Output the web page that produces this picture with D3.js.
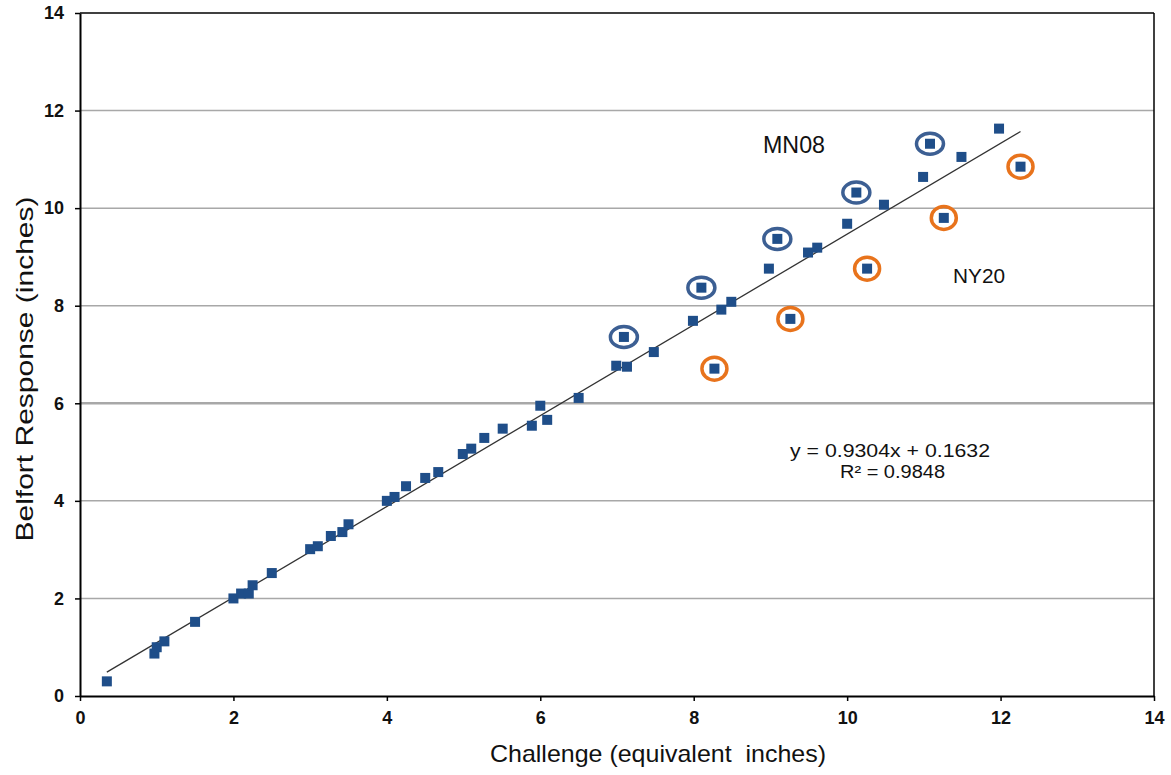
<!DOCTYPE html>
<html>
<head>
<meta charset="utf-8">
<script src="https://cdn.jsdelivr.net/npm/d3@7"></script>
<style>
  body { margin: 0; background: #fff; }
  text { font-family: "Liberation Sans", Arial, sans-serif; white-space: pre; }
</style>
</head>
<body>
<div id="chart"></div>
<script>
// all measured points (Challenge, Belfort)
let challenge = [0.35, 0.97, 1.0, 1.1, 1.5, 2.0, 2.1, 2.2, 2.25, 2.5, 3.0, 3.1, 3.27, 3.42, 3.5,
    4.0, 4.1, 4.25, 4.5, 4.67, 4.99, 5.1, 5.27, 5.51, 5.89, 6.0, 6.09, 6.5, 6.99, 7.13, 7.48,
    7.09, 7.99, 8.1, 8.36, 8.49, 8.27, 8.98, 9.09, 9.49, 9.61, 9.26, 10.0, 10.12, 10.48, 10.26,
    10.99, 11.08, 11.49, 11.26, 11.98, 12.26];
let belfort = [0.3, 0.87, 1.0, 1.12, 1.52, 2.0, 2.1, 2.1, 2.27, 2.52, 3.01, 3.07, 3.28, 3.36, 3.52,
    4.0, 4.08, 4.3, 4.47, 4.59, 4.96, 5.07, 5.29, 5.48, 5.54, 5.95, 5.66, 6.11, 6.77, 6.75, 7.05,
    7.36, 7.69, 8.37, 7.92, 8.08, 6.71, 8.76, 9.37, 9.09, 9.19, 7.73, 9.68, 10.32, 10.07, 8.76,
    10.64, 11.32, 11.05, 9.8, 11.63, 10.85];

// circled points
let mn08X = [7.09, 8.1, 9.09, 10.12, 11.08];
let mn08Y = [7.36, 8.37, 9.37, 10.32, 11.32];
let ny20X = [8.27, 9.26, 10.26, 11.26, 12.26];
let ny20Y = [6.71, 7.73, 8.76, 9.8, 10.85];

// trend line
let slope = 0.9304;
let intercept = 0.1632;
let rSquared = 0.9848;

let tickValues = [0, 2, 4, 6, 8, 10, 12, 14];

let width = 1171, height = 775;
let margin = {top: 13, right: 17, bottom: 79, left: 80};

let svg = d3.select("#chart").append("svg")
    .attr("width", width)
    .attr("height", height);

let x = d3.scaleLinear().domain([0, 14]).range([margin.left, width - margin.right]);
let y = d3.scaleLinear().domain([0, 14]).range([height - margin.bottom, margin.top]);

//gridlines
svg.append("g")
    .selectAll("line")
    .data(tickValues.filter(d => d > 0 && d < 14))
    .enter().append("line")
    .attr("x1", x(0))
    .attr("x2", x(14))
    .attr("y1", d => y(d))
    .attr("y2", d => y(d))
    .attr("stroke", "#a8a8a8")
    .attr("stroke-width", d => d === 6 ? 2.5 : 1.5);

//frame top and right
svg.append("line")
    .attr("x1", x(0)).attr("x2", x(14))
    .attr("y1", y(14)).attr("y2", y(14))
    .attr("stroke", "#000").attr("stroke-width", 1.5);
svg.append("line")
    .attr("x1", x(14)).attr("x2", x(14))
    .attr("y1", y(0)).attr("y2", y(14))
    .attr("stroke", "#000").attr("stroke-width", 1.5);

//axes
let xAxis = svg.append("g")
    .attr("transform", "translate(0," + y(0) + ")")
    .call(d3.axisBottom(x).tickValues(tickValues).tickSize(5).tickSizeOuter(0).tickPadding(10));
let yAxis = svg.append("g")
    .attr("transform", "translate(" + x(0) + ",0)")
    .call(d3.axisLeft(y).tickValues(tickValues).tickSize(5).tickSizeOuter(0).tickPadding(11));

[xAxis, yAxis].forEach(function(a) {
    a.select(".domain").attr("stroke", "#000").attr("stroke-width", 2);
    a.selectAll(".tick line").attr("stroke", "#000").attr("stroke-width", 1.5);
    a.selectAll(".tick text")
        .attr("fill", "#111")
        .style("font-size", "18px")
        .style("font-weight", "bold")
        .style("font-family", "'Liberation Sans', Arial, sans-serif");
});

//trend line
let xMin = d3.min(challenge), xMax = d3.max(challenge);
svg.append("line")
    .attr("x1", x(xMin))
    .attr("y1", y(slope * xMin + intercept))
    .attr("x2", x(xMax))
    .attr("y2", y(slope * xMax + intercept))
    .attr("stroke", "#333")
    .attr("stroke-width", 1.3);

//points
svg.append("g")
    .selectAll("rect")
    .data(challenge.map((d, i) => [d, belfort[i]]))
    .enter().append("rect")
    .attr("x", d => x(d[0]) - 5)
    .attr("y", d => y(d[1]) - 5)
    .attr("width", 10)
    .attr("height", 10)
    .attr("fill", "#1f4e89");

//rings
svg.append("g")
    .selectAll("ellipse")
    .data(mn08X.map((d, i) => [d, mn08Y[i]]))
    .enter().append("ellipse")
    .attr("cx", d => x(d[0]))
    .attr("cy", d => y(d[1]))
    .attr("rx", 13.5)
    .attr("ry", 10.5)
    .attr("fill", "none")
    .attr("stroke", "#3c5f93")
    .attr("stroke-width", 3.5);

svg.append("g")
    .selectAll("ellipse")
    .data(ny20X.map((d, i) => [d, ny20Y[i]]))
    .enter().append("ellipse")
    .attr("cx", d => x(d[0]))
    .attr("cy", d => y(d[1]))
    .attr("rx", 12.5)
    .attr("ry", 11.5)
    .attr("fill", "none")
    .attr("stroke", "#e8731c")
    .attr("stroke-width", 3.5);

//labels
svg.append("text")
    .attr("x", 763).attr("y", 153)
    .attr("textLength", 62).attr("lengthAdjust", "spacingAndGlyphs")
    .style("font-size", "23px").attr("fill", "#111")
    .text("MN08");
svg.append("text")
    .attr("x", 953).attr("y", 283)
    .attr("textLength", 52).attr("lengthAdjust", "spacingAndGlyphs")
    .style("font-size", "21px").attr("fill", "#111")
    .text("NY20");

svg.append("text")
    .attr("x", 790).attr("y", 457)
    .attr("textLength", 200).attr("lengthAdjust", "spacingAndGlyphs")
    .style("font-size", "18px").attr("fill", "#111")
    .text("y = " + slope + "x + " + intercept);
svg.append("text")
    .attr("x", 840).attr("y", 478)
    .attr("textLength", 105).attr("lengthAdjust", "spacingAndGlyphs")
    .style("font-size", "18px").attr("fill", "#111")
    .text("R² = " + rSquared);

//axis titles
svg.append("text")
    .attr("x", 490).attr("y", 762)
    .attr("textLength", 336).attr("lengthAdjust", "spacingAndGlyphs")
    .style("font-size", "24px").attr("fill", "#111")
    .text("Challenge (equivalent  inches)");
svg.append("text")
    .attr("transform", "translate(33,369) rotate(-90)")
    .attr("text-anchor", "middle")
    .attr("textLength", 345).attr("lengthAdjust", "spacingAndGlyphs")
    .style("font-size", "24px").attr("fill", "#111")
    .text("Belfort Response (inches)");
</script>
</body>
</html>
